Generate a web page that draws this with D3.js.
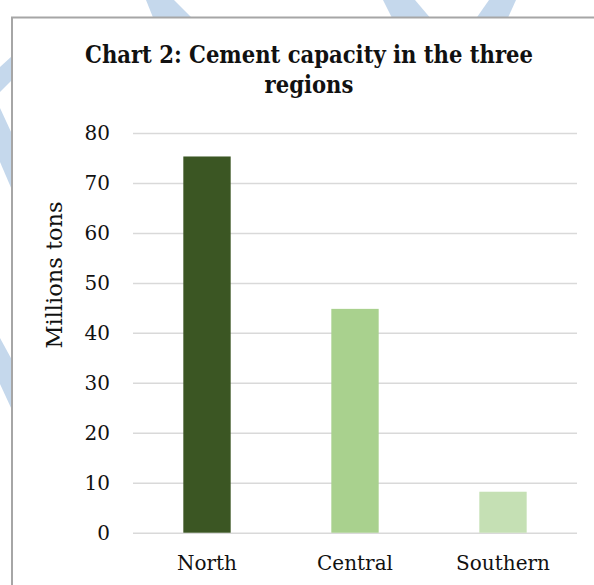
<!DOCTYPE html>
<html>
<head>
<meta charset="utf-8">
<script src="https://cdn.jsdelivr.net/npm/d3@7"></script>
<style>
  body { margin: 0; background: #fff; }
  text { font-family: "DejaVu Serif", serif; fill: #111; }
</style>
</head>
<body>
<div id="chart"></div>
<script>
var regions = ["North", "Central", "Southern"];
var capacity = [75.3, 44.8, 8.2];
var barColors = ["#3b5623", "#a9d18e", "#c5e0b4"];
var yTicks = [0, 10, 20, 30, 40, 50, 60, 70, 80];
var titleLines = ["Chart 2: Cement capacity in the three", "regions"];

var width = 594, height = 585;
var plotLeft = 133, plotRight = 577, plotTop = 133, plotBottom = 532.7;
var fontFam = "DejaVu Serif, serif";

var svg = d3.select("#chart").append("svg")
    .attr("width", width)
    .attr("height", height);

// watermark stripes behind the chart box
var stripe = "#c5d8ec";
var stripes = [
    [[146, 0], [174, 0], [194, 20], [154, 20]],
    [[383, 0], [415, 0], [432, 20], [393, 20]],
    [[489, 0], [516, 0], [507, 20], [475, 20]],
    [[0, 67], [12, 56], [12, 80], [0, 92]],
    [[0, 108], [12, 134], [12, 190], [0, 162]],
    [[0, 338], [12, 360], [12, 410], [0, 384]]
];
svg.selectAll(".stripe")
    .data(stripes)
    .enter().append("polygon")
    .attr("points", function (d) { return d.join(" "); })
    .style("fill", stripe);

svg.append("rect")
    .attr("x", 12)
    .attr("y", 17.5)
    .attr("width", 600)
    .attr("height", 600)
    .style("fill", "#fff")
    .style("stroke", "#a6a6a6")
    .style("stroke-width", 2);

var x = d3.scaleBand()
    .domain(regions)
    .range([plotLeft, plotRight])
    .paddingInner(0.68)
    .paddingOuter(0.34);

var y = d3.scaleLinear()
    .domain([0, 80])
    .range([plotBottom, plotTop]);

var yAxis = svg.append("g")
    .attr("transform", "translate(" + plotLeft + ",0)")
    .call(d3.axisLeft(y).tickValues(yTicks).tickSize(-(plotRight - plotLeft)).tickPadding(23));
yAxis.select(".domain").remove();
yAxis.selectAll("line").style("stroke", "#d9d9d9").style("stroke-width", 1.5);
yAxis.selectAll("text").style("font-size", "20px").style("fill", "#111")
    .style("font-family", fontFam);

svg.selectAll(".bar")
    .data(capacity)
    .enter().append("rect")
    .attr("class", "bar")
    .attr("x", function (d, i) { return x(regions[i]); })
    .attr("y", function (d) { return y(d); })
    .attr("width", x.bandwidth())
    .attr("height", function (d) { return y(0) - y(d); })
    .style("fill", function (d, i) { return barColors[i]; });

var xAxis = svg.append("g")
    .attr("transform", "translate(0," + plotBottom + ")")
    .call(d3.axisBottom(x).tickSize(0).tickPadding(23));
xAxis.select(".domain").remove();
xAxis.selectAll("text").style("font-size", "20px").style("fill", "#111")
    .style("font-family", fontFam);

svg.selectAll(".title")
    .data(titleLines)
    .enter().append("text")
    .attr("class", "title")
    .attr("x", 309)
    .attr("y", function (d, i) { return 63 + i * 30; })
    .attr("text-anchor", "middle")
    .style("font-family", "'DejaVu Serif Condensed', 'DejaVu Serif', serif")
    .style("font-stretch", "condensed")
    .style("font-size", "23.5px")
    .style("font-weight", "bold")
    .text(function (d) { return d; });

svg.append("text")
    .attr("transform", "translate(54,275) rotate(-90)")
    .attr("text-anchor", "middle")
    .attr("dominant-baseline", "central")
    .style("font-size", "22.5px")
    .text("Millions tons");
</script>
</body>
</html>
